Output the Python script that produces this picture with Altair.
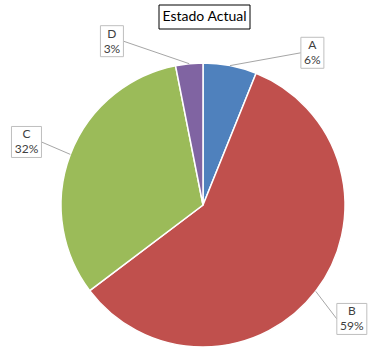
import math
import altair as alt
import pandas as pd

# ---- data ----
categories = ["A", "B", "C", "D"]
values = [6.1, 58.6, 32.2, 3.1]
pct_labels = ["6%", "59%", "32%", "3%"]
colors = ["#4F81BD", "#C0504D", "#9BBB59", "#8064A2"]
title_text = "Estado Actual"

# ---- layout (pixels) ----
W, H = 377, 352
CX, CY, R = 203, 205, 142
LABEL_R = 1.32          # label distance, in pie radii
MIN_SEP = 66.0          # min angular separation of neighbouring labels (deg)
FONT = "Lato"

total = sum(values)
cum = 0.0
mids = []
for v in values:
    mids.append((cum + v / 2) / total * 360.0)
    cum += v

# fan apart labels of neighbouring slices that are too close
lab_ang = list(mids)
n = len(mids)
for i in range(n):
    for j in range(i + 1, n):
        d = ((mids[j] - mids[i] + 180) % 360) - 180
        if abs(d) < MIN_SEP:
            push = (MIN_SEP - abs(d)) / 2
            s = 1 if d >= 0 else -1
            lab_ang[j] += s * push
            lab_ang[i] -= s * push

rows = []
for i, c in enumerate(categories):
    a = math.radians(lab_ang[i])
    m = math.radians(mids[i])
    lx, ly = LABEL_R * math.sin(a), LABEL_R * math.cos(a)
    maxlen = max(len(c), len(pct_labels[i]))
    hw = (7 * maxlen + 9) / 2 / R
    hh = 15.5 / R
    sx = lx - hw if lx > 0 else lx + hw
    rows.append(dict(cat=c, value=values[i], idx=i, pct=pct_labels[i],
                     lx=lx, ly=ly, bx1=lx - hw, bx2=lx + hw, by1=ly - hh, by2=ly + hh,
                     sx=sx, sy=ly, ex=math.sin(m), ey=math.cos(m), zx=0.0, zy=0.0))
df = pd.DataFrame(rows)

xs = alt.Scale(domain=[-CX / R, (W - CX) / R], nice=False, zero=False)
ys = alt.Scale(domain=[-(H - CY) / R, CY / R], nice=False, zero=False)

base = alt.Chart(df)

pie = base.mark_arc(outerRadius=R, stroke="white", strokeWidth=1.5).encode(
    theta=alt.Theta("value:Q", stack=True),
    order=alt.Order("idx:Q"),
    color=alt.Color("cat:N", scale=alt.Scale(domain=categories, range=colors), legend=None),
    x=alt.X("zx:Q", scale=xs, axis=None),
    y=alt.Y("zy:Q", scale=ys, axis=None),
)

leaders = base.mark_rule(color="#A6A6A6", strokeWidth=1).encode(
    x=alt.X("sx:Q", scale=xs, axis=None), y=alt.Y("sy:Q", scale=ys, axis=None),
    x2="ex:Q", y2="ey:Q",
)

boxes = base.mark_rect(fill="white", stroke="#BFBFBF", strokeWidth=1).encode(
    x=alt.X("bx1:Q", scale=xs, axis=None), x2="bx2:Q",
    y=alt.Y("by1:Q", scale=ys, axis=None), y2="by2:Q",
)

txt_style = dict(font=FONT, fontSize=12, color="#404040", align="center", baseline="middle")
names = base.mark_text(dy=-7.5, **txt_style).encode(
    x=alt.X("lx:Q", scale=xs, axis=None), y=alt.Y("ly:Q", scale=ys, axis=None),
    text="cat:N",
)
pcts = base.mark_text(dy=7.5, **txt_style).encode(
    x=alt.X("lx:Q", scale=xs, axis=None), y=alt.Y("ly:Q", scale=ys, axis=None),
    text="pct:N",
)

tdf = pd.DataFrame({"t": [title_text]})
title_box = alt.Chart(tdf).mark_rect(fill="white", stroke="black", strokeWidth=1).encode(
    x=alt.value(159), x2=alt.value(250), y=alt.value(5), y2=alt.value(29)
)
title = alt.Chart(tdf).mark_text(font=FONT, fontSize=14, color="black",
                                 align="center", baseline="middle").encode(
    x=alt.value(204.5), y=alt.value(17), text="t:N"
)

chart = alt.layer(pie, leaders, boxes, names, pcts, title_box, title).properties(
    width=W, height=H, autosize=alt.AutoSizeParams(type="none"), padding=0,
    background="white",
).configure_view(stroke=None)

chart.save("out.html", embed_options={"renderer": "svg", "actions": False})
